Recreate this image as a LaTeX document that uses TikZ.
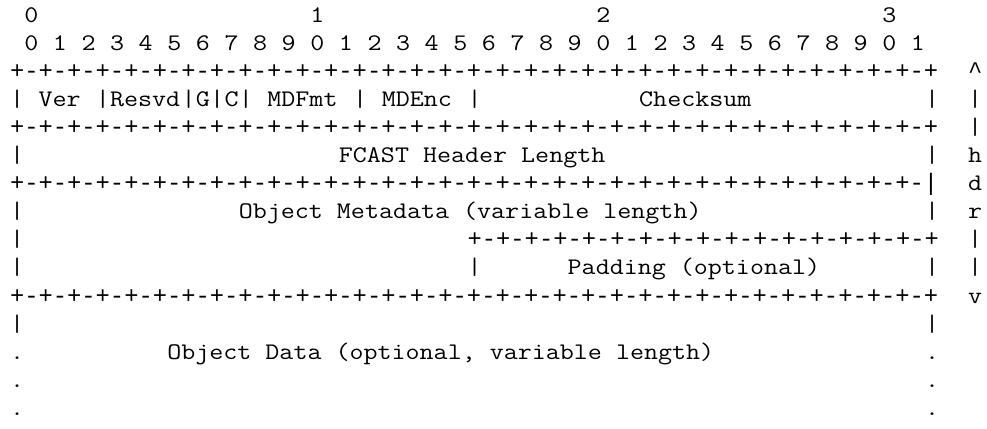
\documentclass[tikz,border=0pt]{standalone}
\usepackage{fontspec}
\setmonofont[FakeStretch=1.144]{Latin Modern Mono}
\newfontfamily\rulefont{Liberation Mono}
\begin{document}
\begin{tikzpicture}[
    x=14.3pt, y=-28.1pt,
    cell/.style={font=\ttfamily\fontsize{23.8pt}{28pt}\selectfont,
                 anchor=base west, inner sep=0pt, outer sep=0pt},
    rule/.style={cell, font=\rulefont\fontsize{23.8pt}{28pt}\selectfont}
]
\useasboundingbox (-0.7,-0.783) rectangle (68.32,14.45);

% Bit numbers
\foreach \t in {0,1,2,3}
    \node[cell] (tens\t) at ({1+20*\t},0) {\t};
\foreach \b in {0,...,31} {
    \pgfmathtruncatemacro\d{mod(\b,10)}
    \node[cell] (bit\b) at ({1+2*\b},1) {\d};
}

% Rulers
\foreach \r in {2,4,10}
    \node[rule] (rule\r) at (0,\r) {+-+-+-+-+-+-+-+-+-+-+-+-+-+-+-+-+-+-+-+-+-+-+-+-+-+-+-+-+-+-+-+-+};
\node[rule] (rule6) at (0,6) {+-+-+-+-+-+-+-+-+-+-+-+-+-+-+-+-+-+-+-+-+-+-+-+-+-+-+-+-+-+-+-+-|};
\node[rule] (rule8) at (32,8) {+-+-+-+-+-+-+-+-+-+-+-+-+-+-+-+-+};

% Fixed header fields
\foreach \c in {0,6,12,14,16,24,32,64}
    \node[cell] (sep3-\c) at (\c,3) {|};
\node[cell] (ver)      at (2,3)  {Ver};
\node[cell] (resvd)    at (7,3)  {Resvd};
\node[cell] (gflag)    at (13,3) {G};
\node[cell] (cflag)    at (15,3) {C};
\node[cell] (mdfmt)    at (18,3) {MDFmt};
\node[cell] (mdenc)    at (26,3) {MDEnc};
\node[cell] (checksum) at (44,3) {Checksum};

\node[cell] (hdrlen)   at (23,5) {FCAST Header Length};
\node[cell] (metadata) at (16,7) {Object Metadata (variable length)};
\node[cell] (padding)  at (39,9) {Padding (optional)};
\node[cell] (objdata)  at (11,12) {Object Data (optional, variable length)};

% Side bars
\foreach \r in {5,7,8,9,11}
    \node[cell] (left\r) at (0,\r) {|};
\foreach \r in {5,7,9,11}
    \node[cell] (right\r) at (64,\r) {|};
\node[cell] (sep9) at (32,9) {|};
\foreach \r in {12,13,14} {
    \node[cell] (ldot\r) at (0,\r) {.};
    \node[cell] (rdot\r) at (64,\r) {.};
}

% hdr brace
\node[rule] (hdr2) at (67,2) {\textasciicircum};
\foreach \c [count=\r from 3] in {|,|,h,d,r,|,|,v}
    \node[cell] (hdr\r) at (67,\r) {\c};
\end{tikzpicture}
\end{document}
